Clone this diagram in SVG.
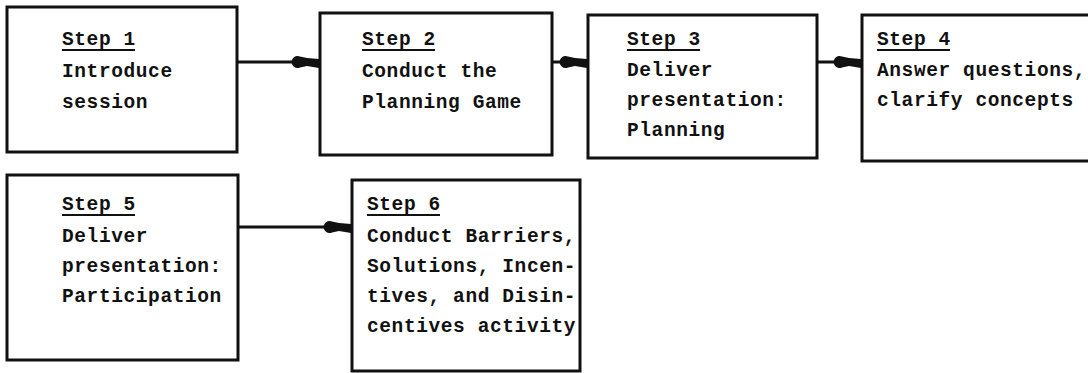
<svg xmlns="http://www.w3.org/2000/svg" width="1088" height="373" viewBox="0 0 1088 373">
<style>
.box{fill:#fff;stroke:#111;stroke-width:3}
.t{font-family:"Liberation Mono","DejaVu Sans Mono",monospace;font-weight:bold;font-size:19.5px;letter-spacing:0.6px;fill:#111}
.u{stroke:#111;stroke-width:2}
.c{stroke:#111;stroke-width:3;fill:none}
</style>
<defs>
<marker id="ah" markerUnits="userSpaceOnUse" markerWidth="34" markerHeight="20" viewBox="-30 -10 34 20" refX="0" refY="0" orient="auto">
<path d="M-19,-5.5 A6,6 0 1 0 -19,5.5 L-12,4 L0,6 L0,-3 L-12,-4 Z" fill="#111"/>
</marker>
</defs>
<rect width="1088" height="373" fill="#fff"/>
<g id="connectors">
<line class="c" x1="237" y1="62" x2="319" y2="62" marker-end="url(#ah)"/>
<line class="c" x1="552" y1="62" x2="587" y2="62" marker-end="url(#ah)"/>
<line class="c" x1="817" y1="62" x2="861" y2="62" marker-end="url(#ah)"/>
<line class="c" x1="238" y1="227" x2="351" y2="227" marker-end="url(#ah)"/>
</g>
<g id="step1">
<rect class="box" x="7" y="7" width="230" height="145"/>
<text class="t" x="62" y="45">Step 1</text>
<line class="u" x1="62" y1="50" x2="135" y2="50"/>
<text class="t" x="62" y="77">Introduce</text>
<text class="t" x="62" y="108">session</text>
</g>
<g id="step2">
<rect class="box" x="320" y="13" width="232" height="142"/>
<text class="t" x="362" y="45">Step 2</text>
<line class="u" x1="362" y1="50" x2="435" y2="50"/>
<text class="t" x="362" y="77">Conduct the</text>
<text class="t" x="362" y="108">Planning Game</text>
</g>
<g id="step3">
<rect class="box" x="588" y="15" width="229" height="143"/>
<text class="t" x="627" y="45">Step 3</text>
<line class="u" x1="627" y1="50" x2="700" y2="50"/>
<text class="t" x="627" y="76">Deliver</text>
<text class="t" x="627" y="106">presentation:</text>
<text class="t" x="627" y="136">Planning</text>
</g>
<g id="step4">
<rect class="box" x="862" y="15" width="240" height="146"/>
<text class="t" x="877" y="45">Step 4</text>
<line class="u" x1="877" y1="50" x2="950" y2="50"/>
<text class="t" x="877" y="76">Answer questions,</text>
<text class="t" x="877" y="106">clarify concepts</text>
</g>
<g id="step5">
<rect class="box" x="7" y="175" width="231" height="185"/>
<text class="t" x="62" y="210">Step 5</text>
<line class="u" x1="62" y1="215" x2="135" y2="215"/>
<text class="t" x="62" y="242">Deliver</text>
<text class="t" x="62" y="272">presentation:</text>
<text class="t" x="62" y="302">Participation</text>
</g>
<g id="step6">
<rect class="box" x="352" y="180" width="228" height="191"/>
<text class="t" x="367" y="210">Step 6</text>
<line class="u" x1="367" y1="215" x2="440" y2="215"/>
<text class="t" x="367" y="242">Conduct Barriers,</text>
<text class="t" x="367" y="272">Solutions, Incen-</text>
<text class="t" x="367" y="302">tives, and Disin-</text>
<text class="t" x="367" y="332">centives activity</text>
</g>
</svg>
